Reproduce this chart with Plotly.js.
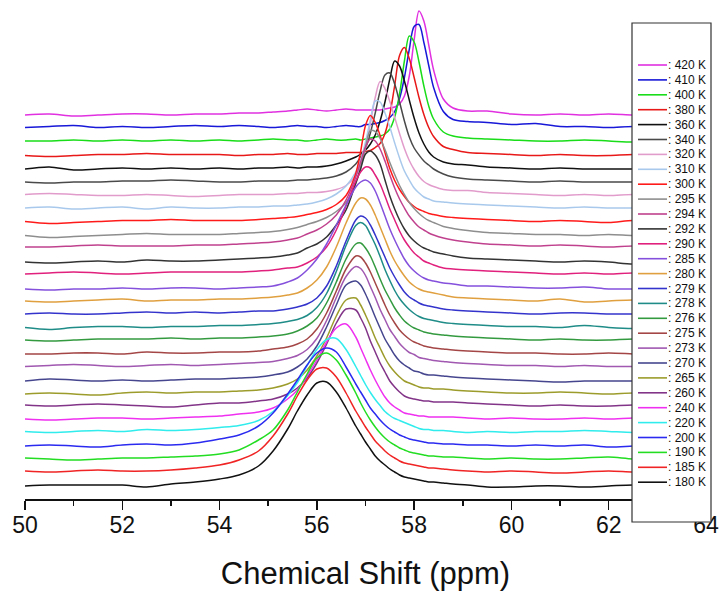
<!DOCTYPE html>
<html>
<head>
<meta charset="utf-8">
<script src="https://cdn.plot.ly/plotly-3.0.1.min.js"></script>
<style>html,body{margin:0;padding:0;background:#fff;}#chart{width:720px;height:594px;}</style>
</head>
<body>
<div id="chart"></div>
<script>
// Chemical shift grid (ppm)
const shift = [50, 50.5, 51, 51.5, 52, 52.5, 53, 53.5,
  54.0, 54.4, 54.8, 55.1, 55.4, 55.6, 55.8, 56.0, 56.2, 56.4, 56.6, 56.8, 56.9,
  57.0, 57.1, 57.2, 57.3, 57.4, 57.5, 57.6, 57.7, 57.8, 57.9, 58.0, 58.1, 58.2, 58.3, 58.4,
  58.6, 58.8, 59.1, 59.5, 60.0, 60.5, 61.0, 61.5, 62.0, 62.5, 63.0, 63.5];

// Temperatures (legend order, top to bottom)
const temps = ['420 K','410 K','400 K','380 K','360 K','340 K','320 K','310 K','300 K','295 K',
  '294 K','292 K','290 K','285 K','280 K','279 K','278 K','276 K','275 K','273 K','270 K',
  '265 K','260 K','240 K','220 K','200 K','190 K','185 K','180 K'];

// Vertical stacking offset of each spectrum (arb. units)
const offsets = [384, 371.5, 358, 343.5, 330, 317, 303.5, 291, 277.5, 263.5,
  252, 237, 225, 210, 198, 185, 171.5, 159, 145, 132.5, 118,
  105, 93, 80, 66.5, 53, 40, 27, 13];

const colors = ['#e030e0','#1818d8','#18dd18','#e81818','#111111','#4a4a4a','#e29ccc','#a9c9ec','#ff1a1a','#8e8e8e',
  '#c0428e','#333333','#e0207c','#8450dc','#e0a040','#3434cc','#1f8c88','#349a40','#a44646','#a058b0','#46468f',
  '#9c9c2c','#823488','#f030f0','#30ecec','#2a2af0','#22dd22','#f02424','#111111'];

// Intensities above each baseline
const s420 = [0,1,-1,0,1,1,0,1, 1,2,2,3,4,5,6,5,4,5,6,5,5, 5,5,5,5,6,7,8,11,19,39,75,104,94,70,45,16,7,4,4,1,0,1,0,1,0,0,0];
const s410 = [0,1,2,0,1,0,1,2, 1,2,1,0,1,2,1,1,0,1,2,1,1, 3,3,4,5,7,10,16,29,50,78,101,103,85,62,40,16,8,6,5,3,4,1,1,0,1,0,0];
const s400 = [0,0,1,0,1,0,1,0, 1,0,1,2,1,1,0,1,2,1,1,2,1, 2,3,4,5,7,12,24,47,80,105,99,79,55,35,22,9,5,3,2,1,0,0,1,0,-1,0,0];
const s380 = [0,-1,0,1,1,2,1,1, 1,0,1,1,2,1,1,2,2,2,3,3,3, 4,5,8,12,22,41,70,100,108,97,78,58,41,28,19,9,6,3,2,1,0,1,0,0,1,0,0];
const s360 = [0,2,-1,0,1,0,1,0, 1,0,1,1,2,1,2,2,3,5,8,12,15, 19,25,34,48,67,90,108,103,88,69,51,36,25,17,12,7,5,4,2,1,0,1,0,0,0,0,0];
const s340 = [0,-1,0,0,1,1,2,1, 0,0,1,1,1,2,2,3,4,6,10,18,25, 34,49,69,91,107,109,98,80,61,45,34,27,21,17,13,8,5,3,2,1,0,1,0,0,0,0,0];
const s320 = [1,2,1,0,0,1,0,-1, 0,1,1,1,2,2,3,3,4,6,10,20,31, 48,72,98,114,107,94,78,62,47,35,26,19,14,11,9,6,5,5,3,2,1,0,1,0,1,0,0];
const s310 = [0,1,-1,0,1,-1,1,0, 0,1,1,2,2,3,4,6,9,14,22,36,48, 66,88,107,106,95,81,65,50,37,28,20,15,11,9,7,6,5,4,3,2,1,0,1,0,0,0,0];
const s300 = [0,-2,-1,0,1,1,2,1, 1,1,2,3,4,5,7,9,12,17,26,48,70, 96,106,99,86,69,53,41,32,25,19,15,12,10,8,7,5,4,3,2,1,0,1,0,-1,1,0,0];
const s295 = [0,-2,-1,0,1,2,1,1, 1,2,3,4,6,8,11,14,18,24,33,52,68, 88,105,104,97,86,73,61,50,41,33,27,22,18,15,13,9,7,5,3,2,1,1,0,1,0,0,0];
const s294 = [0,0,1,2,1,1,1,2, 2,3,4,5,7,9,13,17,23,32,47,70,85, 100,108,106,98,86,72,59,48,39,31,25,20,17,14,12,9,7,5,3,2,1,2,1,0,1,0,0];
const s292 = [0,-1,0,1,0,2,1,1, 2,3,4,5,7,9,14,18,25,37,52,79,93, 108,111,107,98,82,66,53,42,33,26,21,17,14,12,10,8,6,4,3,2,1,0,1,0,-2,0,0];
const s290 = [0,1,2,1,0,1,2,2, 2,2,3,4,6,7,11,17,27,44,68,93,102, 107,106,99,90,78,65,54,43,34,27,21,17,13,11,9,6,5,4,3,2,1,0,1,0,1,0,0];
const s285 = [0,-1,0,0,1,0,1,1, 0,1,2,3,7,11,19,30,45,64,84,102,107, 109,106,98,86,73,60,49,39,30,23,18,14,11,9,8,6,5,3,3,2,1,1,2,0,0,0,0];
const s280 = [0,-1,0,1,2,0,1,1, 2,2,3,4,6,8,13,21,34,54,78,98,103, 102,96,86,74,62,50,40,32,25,19,15,12,10,9,8,6,4,3,2,1,0,2,-1,0,1,0,0];
const s279 = [0,1,0,0,1,2,1,2, 1,2,3,3,5,7,10,16,28,48,73,94,98, 96,89,79,68,57,46,37,29,22,17,14,11,9,8,7,5,4,3,2,1,0,1,1,0,0,0,0];
const s278 = [0,-2,0,1,1,0,1,1, 2,2,3,4,6,8,12,20,34,56,82,102,105, 102,93,83,71,58,47,37,29,23,18,14,11,9,8,7,5,4,3,2,1,1,0,2,0,-1,0,0];
const s276 = [0,-1,0,1,1,1,2,1, 2,2,3,4,6,9,14,22,37,58,81,96,97, 92,84,73,61,50,41,32,25,19,15,12,10,8,7,6,5,4,3,2,1,0,1,0,0,1,0,0];
const s275 = [0,0,1,1,0,2,1,1, 2,2,3,5,7,10,15,25,41,63,85,98,97, 91,82,71,60,49,39,31,24,19,15,12,10,8,7,6,5,4,3,2,1,1,0,0,1,0,-1,0];
const s273 = [0,1,2,1,0,1,2,1, 2,3,4,5,8,11,17,28,46,69,90,100,98, 91,80,69,57,47,37,30,23,18,14,12,9,8,7,6,5,4,3,2,1,1,0,1,0,0,1,0];
const s270 = [0,2,1,0,1,0,1,2, 2,3,4,6,9,14,22,35,54,76,96,100,96, 87,76,64,53,42,34,26,20,16,13,10,9,7,6,6,5,4,3,2,1,0,-1,0,0,0,0,0];
const s265 = [0,1,0,-1,1,2,1,2, 2,3,4,6,10,15,24,38,56,78,94,96,89, 79,68,56,46,36,28,22,17,13,11,9,7,6,6,5,5,4,3,2,1,1,2,1,0,1,0,0];
const s260 = [1,0,1,2,1,0,-1,1, 3,3,5,7,12,18,28,43,62,83,97,96,88, 78,65,54,43,34,25,19,14,10,8,7,6,5,5,4,4,4,3,2,1,0,1,0,0,1,0,0];
const s240 = [0,-1,0,1,1,0,1,2, 3,5,7,11,20,29,43,59,77,91,95,82,71, 60,49,39,30,22,16,12,9,6,5,4,3,3,2,2,2,2,1,0,1,0,0,1,0,1,1,0];
const s220 = [1,0,1,2,1,3,2,3, 5,7,12,21,37,50,67,83,93,94,83,66,57, 48,40,33,27,21,17,14,12,10,8,6,4,3,3,2,2,1,0,1,0,1,1,2,1,0,0,0];
const s200 = [0,1,0,-1,1,2,1,3, 7,11,20,33,52,66,81,93,98,94,79,62,54, 46,38,32,26,21,17,14,11,9,7,6,5,4,3,3,2,2,1,1,0,1,0,1,-1,0,1,0];
const s190 = [1,0,-1,0,1,1,2,3, 5,9,19,29,49,67,85,101,106,99,84,66,56, 47,39,32,26,21,17,14,11,9,7,6,5,4,3,3,2,2,1,0,1,0,0,1,2,0,0,0];
const s185 = [1,0,1,2,1,1,2,4, 7,12,21,36,58,76,92,103,104,95,79,61,53, 45,38,31,26,21,17,14,11,9,8,7,6,5,4,4,3,2,1,0,1,0,-1,0,1,0,0,0];
const s180 = [0,1,1,1,1,-1,2,4, 7,11,20,35,57,75,91,103,104,94,78,60,52, 44,37,30,25,21,17,14,11,9,8,7,6,5,4,4,3,2,1,-1,-1,0,0,-1,0,1,0,0];

const series = [s420,s410,s400,s380,s360,s340,s320,s310,s300,s295,s294,s292,s290,s285,
  s280,s279,s278,s276,s275,s273,s270,s265,s260,s240,s220,s200,s190,s185,s180];

const FONT = 'Liberation Sans, Arial, Helvetica, sans-serif';
const W = 720, H = 594, ML = 25, MR = 14, MT = 0, MB = 95;
const pw = W - ML - MR, ph = H - MT - MB;
const px2x = p => (p - ML) / pw;
const py2y = p => (H - MB - p) / ph;

const traces = series.map((s, i) => ({
  x: shift,
  y: s.map(v => v + offsets[i]),
  type: 'scatter',
  mode: 'lines',
  name: temps[i],
  showlegend: false,
  hoverinfo: 'skip',
  line: {color: colors[i], width: 1.5, shape: 'spline', smoothing: 0.9}
}));

// Hand-made legend box (Origin style, tight rows)
const shapes = [{
  type: 'rect', xref: 'paper', yref: 'paper', layer: 'above',
  x0: px2x(632), x1: px2x(711), y0: py2y(522), y1: py2y(23),
  fillcolor: '#ffffff', line: {color: '#333333', width: 1.2}
}];
const annotations = [];
temps.forEach((t, i) => {
  const yy = py2y(65 + i * 14.9);
  shapes.push({type: 'line', xref: 'paper', yref: 'paper', layer: 'above',
    x0: px2x(638), x1: px2x(667), y0: yy, y1: yy,
    line: {color: colors[i], width: 1.6}});
  annotations.push({xref: 'paper', yref: 'paper', x: px2x(666), y: yy,
    xanchor: 'left', yanchor: 'middle', showarrow: false,
    text: ': ' + t, font: {family: FONT, size: 12, color: '#111'}});
});

const layout = {
  width: W, height: H,
  margin: {l: ML, r: MR, t: MT, b: MB},
  paper_bgcolor: '#ffffff', plot_bgcolor: '#ffffff',
  showlegend: false,
  xaxis: {
    range: [50, 64], dtick: 2, tick0: 50,
    showgrid: false, zeroline: false,
    showline: true, linecolor: '#111', linewidth: 1.6,
    ticks: 'outside', ticklen: 9, tickwidth: 1.5, tickcolor: '#111',
    ticklabelstandoff: -4,
    minor: {dtick: 1, ticks: 'outside', ticklen: 5, tickwidth: 1.5, tickcolor: '#111', showgrid: false},
    tickfont: {family: FONT, size: 23, color: '#111'},
    title: {text: 'Chemical Shift (ppm)', font: {family: FONT, size: 31, color: '#111'}, standoff: 25},
    automargin: false, fixedrange: true
  },
  yaxis: {range: [0, ph], visible: false, fixedrange: true},
  shapes: shapes,
  annotations: annotations
};

Plotly.newPlot('chart', traces, layout, {displayModeBar: false, staticPlot: true});
</script>
</body>
</html>
